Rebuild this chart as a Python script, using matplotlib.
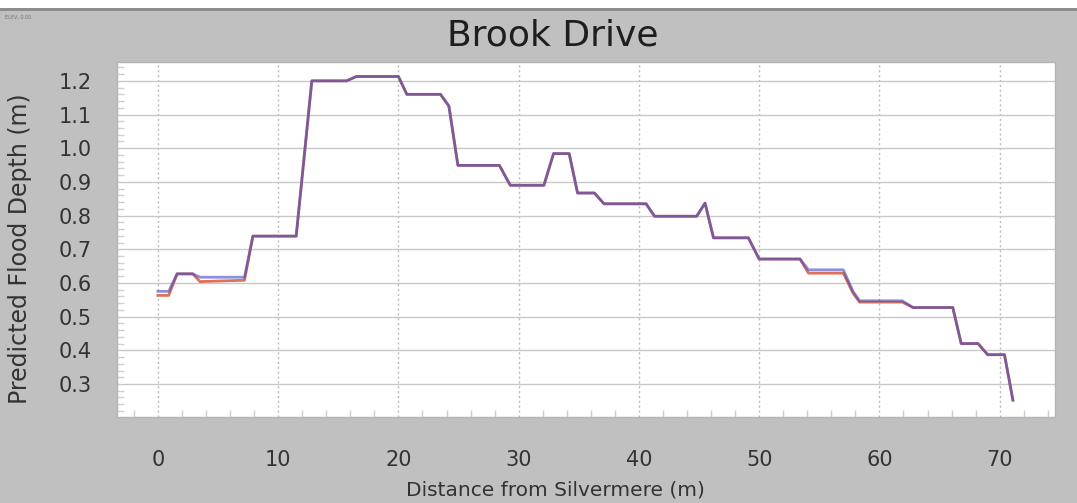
import numpy as np
import matplotlib
matplotlib.use("Agg")
import matplotlib.pyplot as plt
from matplotlib.ticker import MultipleLocator
from matplotlib.patches import Rectangle
from matplotlib.lines import Line2D

# distance along the road (m) and predicted depths (m) for the two runs
distance = [0.0, 0.9, 1.6, 2.9, 3.5, 7.2, 7.9, 11.5, 12.8, 15.7, 16.5, 20.0,
            20.7, 23.5, 24.2, 24.95, 28.4, 29.3, 32.1, 32.9, 34.2, 34.9, 36.3,
            37.1, 40.6, 41.3, 44.8, 45.5, 46.2, 49.1, 50.0, 53.4, 54.1, 57.0,
            57.8, 58.35, 61.9, 62.8, 66.1, 66.8, 68.2, 69.0, 70.4, 71.1]
depth_a = [0.575, 0.575, 0.627, 0.627, 0.617, 0.617, 0.739, 0.739, 1.200, 1.200,
           1.213, 1.213, 1.160, 1.160, 1.125, 0.949, 0.949, 0.890, 0.890, 0.984,
           0.984, 0.867, 0.867, 0.835, 0.835, 0.798, 0.798, 0.837, 0.734, 0.734,
           0.671, 0.671, 0.639, 0.639, 0.575, 0.547, 0.547, 0.527, 0.527, 0.420,
           0.420, 0.387, 0.387, 0.252]
depth_b = [0.563, 0.563, 0.627, 0.627, 0.604, 0.608, 0.739, 0.739, 1.200, 1.200,
           1.213, 1.213, 1.160, 1.160, 1.125, 0.949, 0.949, 0.890, 0.890, 0.984,
           0.984, 0.867, 0.867, 0.835, 0.835, 0.798, 0.798, 0.837, 0.734, 0.734,
           0.671, 0.671, 0.629, 0.629, 0.570, 0.543, 0.543, 0.527, 0.527, 0.420,
           0.420, 0.387, 0.387, 0.252]

bg = "#c0c0c0"
W, H = 1077, 503
fig = plt.figure(figsize=(W / 100, H / 100), dpi=100, facecolor=bg)
ax = fig.add_axes([117 / W, 1 - 417 / H, (1055 - 117) / W, (417 - 62) / H])
ax.set_facecolor("white")

# white strip and rule along the top edge
fig.patches.append(Rectangle((0, 1 - 8 / H), 1, 8 / H, transform=fig.transFigure,
                             facecolor="white", edgecolor="none", zorder=0))
fig.lines.append(Line2D([0, 1], [1 - 9 / H, 1 - 9 / H], transform=fig.transFigure,
                        color="#8a8a8a", lw=2))
fig.text(0.005, 1 - 17 / H, "ELEV, 0.00", fontsize=3.5, color="#707070", va="center")

ax.plot(distance, depth_b, color="#e0705a", lw=2, solid_joinstyle="round", zorder=3)
ax.plot(distance, depth_a, color="#3d48c0", lw=2, alpha=0.6, solid_joinstyle="round", zorder=4)

ax.set_xlim(-3.4, 74.6)
ax.set_ylim(0.202, 1.256)
ax.set_xticks(range(0, 71, 10))
ax.xaxis.set_minor_locator(MultipleLocator(2))
ax.set_yticks(np.arange(0.3, 1.21, 0.1))
ax.yaxis.set_minor_locator(MultipleLocator(0.02))

ax.grid(axis="y", which="major", color="#c8c8c8", lw=1, ls="-")
ax.grid(axis="x", which="major", color="#bcbcbc", lw=1, ls=(0, (1.5, 2)))
ax.set_axisbelow(True)

ax.tick_params(axis="x", which="major", length=0, pad=24, labelsize=15, labelcolor="#333333")
ax.tick_params(axis="y", which="major", length=0, pad=18, labelsize=15, labelcolor="#333333")
ax.tick_params(which="minor", direction="in", length=5, color="#d0d0d0", width=1)
ax.yaxis.set_major_formatter(plt.FormatStrFormatter("%.1f"))

for s in ax.spines.values():
    s.set_color("#b4b4b4")
    s.set_linewidth(1)

fig.text(553 / W, 1 - 35 / H, "Brook Drive", fontsize=26, color="#1e1e1e",
         ha="center", va="center")
fig.text(555 / W, 1 - 490 / H, "Distance from Silvermere (m)", fontsize=14.5,
         color="#333333", ha="center", va="center")
fig.text(20 / W, 1 - 249 / H, "Predicted Flood Depth (m)", fontsize=17,
         color="#333333", ha="center", va="center", rotation=90)

fig.savefig("out.png", dpi=100, facecolor=bg)
